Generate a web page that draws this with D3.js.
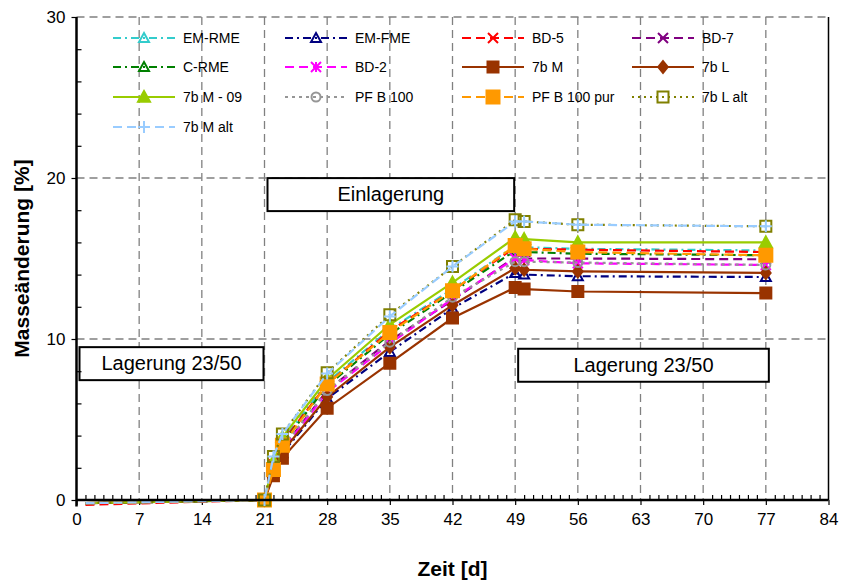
<!DOCTYPE html>
<html><head><meta charset="utf-8">
<script src="https://cdn.jsdelivr.net/npm/d3@7/dist/d3.min.js"></script>
<style>body{margin:0;background:#fff}svg{display:block}</style></head>
<body>
<svg id="chart" width="846" height="583"></svg>
<script>
// Sampling days (storage time in days)
const days = [1, 21, 22, 23, 28, 35, 42, 49, 50, 56, 77];

// Mass change [%] per fuel
const emRme    = [-0.2, 0, 2.3, 3.7, 7.3, 10.6, 13.1, 15.8, 15.7, 15.6, 15.5];
const emFme    = [-0.2, 0, 1.7, 2.9, 6.3, 9.2, 11.9, 14.1, 14.0, 13.9, 13.85];
const bd5      = [-0.3, 0, 2.2, 3.6, 7.2, 10.5, 13.0, 15.7, 15.6, 15.55, 15.4];
const bd7      = [-0.2, 0, 1.9, 3.2, 6.8, 9.9, 12.4, 15.1, 15.0, 15.0, 14.95];
const cRme     = [-0.2, 0, 2.1, 3.5, 7.1, 10.3, 12.9, 15.5, 15.4, 15.3, 15.2];
const bd2      = [-0.2, 0, 1.8, 3.1, 6.7, 9.7, 12.5, 15.0, 14.9, 14.7, 14.6];
const m7b      = [-0.2, 0, 1.5, 2.6, 5.7, 8.5, 11.3, 13.2, 13.1, 12.95, 12.85];
const l7b      = [-0.2, 0, 1.7, 3.0, 6.4, 9.5, 12.1, 14.4, 14.3, 14.2, 14.1];
const m7b09    = [-0.2, 0, 2.4, 3.9, 7.5, 10.9, 13.5, 16.3, 16.2, 16.0, 16.0];
const pfb100   = [-0.2, 0, 2.0, 3.3, 6.8, 9.8, 12.6, 14.8, 14.8, 14.75, 14.6];
const pfb100p  = [-0.2, 0, 1.9, 3.4, 7.2, 10.4, 13.0, 15.8, 15.6, 15.4, 15.2];
const l7bAlt   = [-0.2, 0, 2.7, 4.1, 7.9, 11.5, 14.5, 17.4, 17.3, 17.1, 17.0];
const m7bAlt   = [-0.2, 0, 2.7, 4.1, 7.85, 11.4, 14.5, 17.3, 17.3, 17.1, 17.0];

const seriesNames = ["EM-RME", "EM-FME", "BD-5", "BD-7", "C-RME", "BD-2", "7b M", "7b L",
                     "7b M - 09", "PF B 100", "PF B 100 pur", "7b L alt", "7b M alt"];
const seriesValues = [emRme, emFme, bd5, bd7, cRme, bd2, m7b, l7b, m7b09, pfb100, pfb100p, l7bAlt, m7bAlt];

const xTicks = [0, 7, 14, 21, 28, 35, 42, 49, 56, 63, 70, 77, 84];
const yTicks = [0, 10, 20, 30];

const phaseLabels = ["Lagerung 23/50", "Einlagerung", "Lagerung 23/50"];
const phaseRanges = [[0, 21], [21, 49], [49, 77]];
const phaseLevels = [8.5, 19.0, 8.4];

// Line / marker styling per series
const styles = [
  {color: "#33CCCC", dash: "8,4,2,4", marker: "triOpen", size: 5},
  {color: "#000080", dash: "8,4,2,4", marker: "triOpen", size: 5},
  {color: "#FF0000", dash: "9,5",     marker: "x",       size: 5},
  {color: "#800080", dash: "9,5",     marker: "x",       size: 5},
  {color: "#008000", dash: "8,4,2,4", marker: "triOpen", size: 5},
  {color: "#FF00FF", dash: "9,5",     marker: "star",    size: 5},
  {color: "#993300", dash: null,      marker: "square",  size: 5.5},
  {color: "#993300", dash: null,      marker: "diamond", size: 6},
  {color: "#99CC00", dash: null,      marker: "triFill", size: 6},
  {color: "#969696", dash: "3,4",     marker: "circle",  size: 4.5},
  {color: "#FF9900", dash: "9,5",     marker: "square",  size: 6.5},
  {color: "#808000", dash: "2,4",     marker: "squareOpen", size: 5.5},
  {color: "#99CCFF", dash: "9,5",     marker: "plus",    size: 6}
];

const svg = d3.select("#chart");
const x = d3.scaleLinear().domain([0, 84]).range([76.5, 828.5]);
const y = d3.scaleLinear().domain([0, 30]).range([500, 17]);

const font = "'Liberation Sans', Arial, sans-serif";

// Gridlines
const grid = svg.append("g").attr("stroke", "#808080").attr("stroke-width", 1.3)
  .attr("stroke-dasharray", "8,5");
xTicks.filter(d => d > 0 && d < 84).forEach(d =>
  grid.append("line").attr("x1", x(d)).attr("x2", x(d)).attr("y1", y(30)).attr("y2", y(0)));
yTicks.filter(d => d > 0).forEach(d =>
  grid.append("line").attr("x1", x(0)).attr("x2", x(84)).attr("y1", y(d)).attr("y2", y(d)));
// right border
svg.append("line").attr("x1", x(84)).attr("x2", x(84)).attr("y1", y(30)).attr("y2", y(0))
  .attr("stroke", "#000").attr("stroke-width", 1.5);

// Phase boxes
phaseLabels.forEach((t, i) => {
  const [a, b] = phaseRanges[i];
  const x0 = x(a) + 3, x1 = x(b) + (i === 2 ? 3 : -1);
  const yc = y(phaseLevels[i]);
  svg.append("rect").attr("x", x0).attr("y", yc - 16).attr("width", x1 - x0).attr("height", 33)
    .attr("fill", "#fff").attr("stroke", "#000").attr("stroke-width", 2);
  svg.append("text").attr("x", (x0 + x1) / 2).attr("y", yc + 7).attr("text-anchor", "middle")
    .attr("font-family", font).attr("font-size", 20).text(t);
});

// Axes
const xAxis = svg.append("g").attr("transform", `translate(0,${y(0)})`)
  .call(d3.axisBottom(x).tickValues(xTicks).tickSize(5).tickPadding(8));
const xMinor = svg.append("g").attr("transform", `translate(0,${y(0)})`)
  .call(d3.axisTop(x).tickValues(d3.range(0, 85, 1).filter(d => d % 7)).tickSize(5).tickFormat(""));
const yAxis = svg.append("g").attr("transform", `translate(${x(0)},0)`)
  .call(d3.axisLeft(y).tickValues(yTicks).tickSize(5).tickPadding(6));
const yMinor = svg.append("g").attr("transform", `translate(${x(0)},0)`)
  .call(d3.axisRight(y).tickValues(d3.range(2, 30, 2).filter(d => d % 10)).tickSize(5).tickFormat(""));
[xAxis, xMinor, yAxis, yMinor].forEach(g => {
  g.select(".domain").remove();
  g.selectAll("line").attr("stroke", "#000").attr("stroke-width", 1.2);
  g.selectAll("text").attr("font-family", font).attr("font-size", 17).attr("fill", "#000");
});
svg.append("line").attr("x1", x(0)).attr("x2", x(0)).attr("y1", y(30)).attr("y2", y(-0.4))
  .attr("stroke", "#000").attr("stroke-width", 2.5);

// Marker path generator
function markerPath(kind, s) {
  switch (kind) {
    case "triOpen": case "triFill":
      return `M0,${-s}L${s},${s * 0.8}L${-s},${s * 0.8}Z`;
    case "square": case "squareOpen":
      return `M${-s},${-s}H${s}V${s}H${-s}Z`;
    case "diamond":
      return `M0,${-s}L${s * 0.8},0L0,${s}L${-s * 0.8},0Z`;
    case "x":
      return `M${-s},${-s}L${s},${s}M${-s},${s}L${s},${-s}`;
    case "star":
      return `M${-s},${-s}L${s},${s}M${-s},${s}L${s},${-s}M0,${-s}L0,${s}`;
    case "plus":
      return `M${-s},0H${s}M0,${-s}V${s}`;
    case "circle":
      return `M${s},0A${s},${s} 0 1,1 ${-s},0A${s},${s} 0 1,1 ${s},0Z`;
  }
}
function drawMarker(g, st, cx, cy) {
  const filled = st.marker === "square" || st.marker === "diamond" || st.marker === "triFill";
  g.append("path").attr("transform", `translate(${cx},${cy})`)
    .attr("d", markerPath(st.marker, st.size))
    .attr("fill", filled ? st.color : "none")
    .attr("stroke", st.color).attr("stroke-width", 2);
}

// Data series
const line = d3.line().x(d => x(d[0])).y(d => y(d[1]));
const plot = svg.append("g");
seriesValues.forEach((vals, i) => {
  const st = styles[i];
  const pts = days.map((d, j) => [d, vals[j]]);
  const g = plot.append("g");
  g.append("path").attr("d", line(pts)).attr("fill", "none").attr("stroke", st.color)
    .attr("stroke-width", 2.2).attr("stroke-dasharray", st.dash);
  pts.filter(p => p[0] >= 21).forEach(p => drawMarker(g, st, x(p[0]), y(p[1])));
});

// x axis baseline at zero
svg.append("line").attr("x1", x(0)).attr("x2", x(84)).attr("y1", y(0)).attr("y2", y(0))
  .attr("stroke", "#000").attr("stroke-width", 2.5);

// Legend
const legCols = [113, 285, 462, 632];
const legRows = [38, 67, 97, 127];
seriesNames.forEach((name, i) => {
  const st = styles[i];
  const lx = legCols[i % 4], ly = legRows[Math.floor(i / 4)];
  const g = svg.append("g");
  g.append("line").attr("x1", lx).attr("x2", lx + 62).attr("y1", ly).attr("y2", ly)
    .attr("stroke", st.color).attr("stroke-width", 2.2).attr("stroke-dasharray", st.dash);
  drawMarker(g, st, lx + 31, ly);
  g.append("text").attr("x", lx + 70).attr("y", ly + 5).attr("font-family", font)
    .attr("font-size", 14).text(name);
});

// Axis titles
svg.append("text").attr("x", (x(0) + x(84)) / 2).attr("y", 576).attr("text-anchor", "middle")
  .attr("font-family", font).attr("font-weight", "bold").attr("font-size", 21).text("Zeit [d]");
svg.append("text").attr("transform", `translate(29,${(y(0) + y(30)) / 2}) rotate(-90)`)
  .attr("text-anchor", "middle").attr("font-family", font).attr("font-weight", "bold")
  .attr("font-size", 21).text("Masseänderung [%]");
</script>
</body></html>
